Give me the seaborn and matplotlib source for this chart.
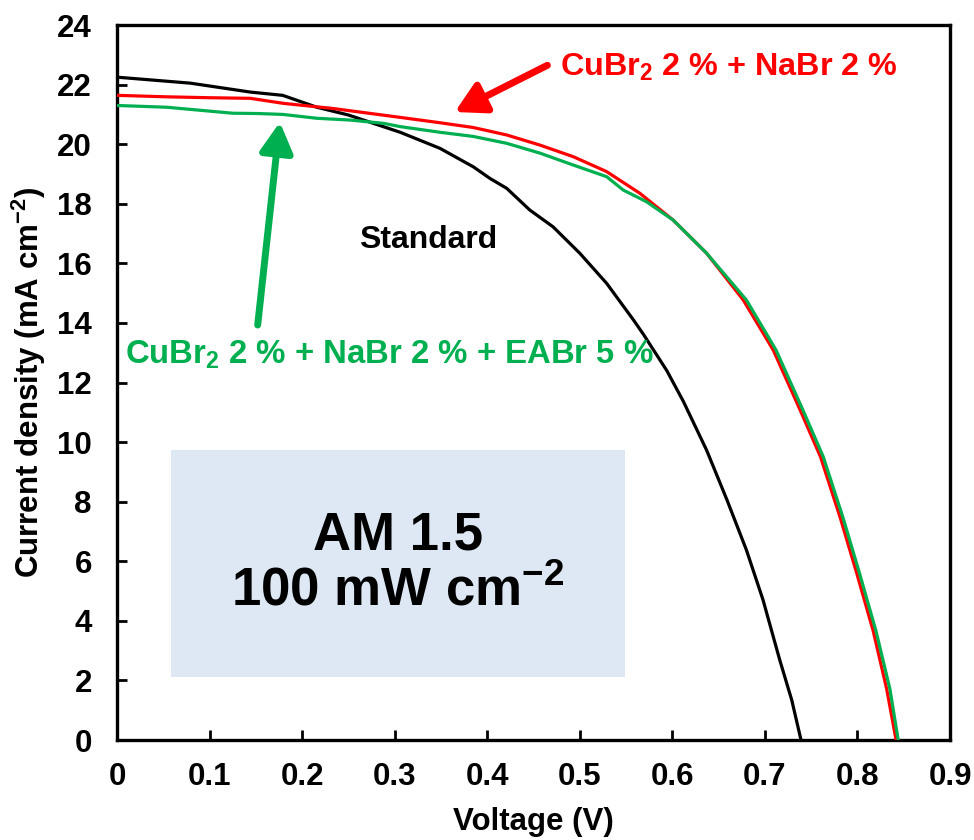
import numpy as np
import pandas as pd
import matplotlib
matplotlib.use("Agg")
import matplotlib.pyplot as plt
from matplotlib.patches import Rectangle
import seaborn as sns

# ---- data ----
std_v = [0.0, 0.079, 0.144, 0.179, 0.216, 0.25, 0.306, 0.349, 0.385, 0.403, 0.421, 0.446,
         0.471, 0.500, 0.529, 0.558, 0.5687, 0.594, 0.612, 0.637, 0.659, 0.680, 0.698,
         0.716, 0.729, 0.739]
std_j = [22.25, 22.05, 21.75, 21.64, 21.24, 20.98, 20.40, 19.86, 19.24, 18.85, 18.52, 17.79,
         17.23, 16.34, 15.33, 14.10, 13.62, 12.40, 11.36, 9.73, 8.06, 6.38, 4.70,
         2.69, 1.34, 0.0]

cu_v = [0.0, 0.054, 0.10, 0.144, 0.18, 0.233, 0.306, 0.349, 0.385, 0.421, 0.457, 0.493,
        0.529, 0.565, 0.601, 0.637, 0.6766, 0.709, 0.738, 0.760, 0.781, 0.799, 0.817,
        0.8315, 0.8417]
cu_j = [21.64, 21.59, 21.56, 21.54, 21.37, 21.20, 20.90, 20.72, 20.56, 20.31, 19.97, 19.58,
        19.08, 18.35, 17.45, 16.34, 14.77, 13.09, 11.08, 9.51, 7.50, 5.62, 3.66,
        1.72, 0.0]

ea_v = [0.0, 0.054, 0.125, 0.152, 0.179, 0.216, 0.252, 0.288, 0.306, 0.349, 0.385, 0.421,
        0.457, 0.493, 0.529, 0.547, 0.572, 0.601, 0.637, 0.680, 0.712, 0.741, 0.763,
        0.784, 0.802, 0.820, 0.835, 0.844]
ea_j = [21.30, 21.24, 21.04, 21.03, 21.00, 20.87, 20.81, 20.70, 20.59, 20.40, 20.26, 20.03,
        19.70, 19.30, 18.91, 18.46, 18.07, 17.45, 16.34, 14.77, 13.09, 11.08, 9.51,
        7.50, 5.62, 3.66, 1.72, 0.0]

series_names = ["Standard", "CuBr2 2 % + NaBr 2 %", "CuBr2 2 % + NaBr 2 % + EABr 5 %"]
series_colors = ["#000000", "#ff0000", "#00b050"]

x_ticks = [0, 0.1, 0.2, 0.3, 0.4, 0.5, 0.6, 0.7, 0.8, 0.9]
x_tick_labels = ["0", "0.1", "0.2", "0.3", "0.4", "0.5", "0.6", "0.7", "0.8", "0.9"]
y_ticks = list(range(0, 25, 2))

df = pd.concat([
    pd.DataFrame({"V": std_v, "J": std_j, "s": series_names[0]}),
    pd.DataFrame({"V": cu_v, "J": cu_j, "s": series_names[1]}),
    pd.DataFrame({"V": ea_v, "J": ea_j, "s": series_names[2]}),
], ignore_index=True)

# ---- style ----
sns.set_style("ticks")
plt.rcParams["font.family"] = ["Liberation Sans", "DejaVu Sans"]
plt.rcParams["font.weight"] = "bold"
plt.rcParams["mathtext.default"] = "regular"
plt.rcParams["axes.labelweight"] = "bold"
plt.rcParams["text.color"] = "black"
plt.rcParams["axes.labelcolor"] = "black"
plt.rcParams["xtick.color"] = "black"
plt.rcParams["ytick.color"] = "black"
plt.rcParams["xtick.labelcolor"] = "black"
plt.rcParams["ytick.labelcolor"] = "black"

fig = plt.figure(figsize=(9.74, 8.4), dpi=100)
ax = fig.add_axes([0.1201, 0.119, 0.8553, 0.8512])

# info box (behind curves)
ax.add_patch(Rectangle((0.0583, 2.11), 0.549 - 0.0583, 9.73 - 2.11,
                       facecolor="#dde8f4", edgecolor="none", zorder=0))
ax.text(0.3035, 5.92, "AM 1.5\n100 mW cm$^{-2}$", ha="center", va="center",
        fontsize=38, fontweight="bold", linespacing=1.15, zorder=1, color="black")

sns.lineplot(data=df, x="V", y="J", hue="s", palette=series_colors,
             hue_order=series_names, sort=False, estimator=None,
             linewidth=2.3, legend=False, ax=ax, zorder=3)

ax.set_xlim(0, 0.9)
ax.set_ylim(0, 24)
ax.set_xticks(x_ticks)
ax.set_xticklabels(x_tick_labels)
ax.set_yticks(y_ticks)

for sp in ax.spines.values():
    sp.set_visible(True)
    sp.set_linewidth(2.4)
    sp.set_color("black")

ax.tick_params(direction="in", length=7, width=2, labelsize=22.5, color="black",
               labelcolor="black")
ax.tick_params(axis="y", pad=18)
ax.tick_params(axis="x", pad=16)
for lab in ax.get_xticklabels() + ax.get_yticklabels():
    lab.set_fontweight("bold")

ax.set_xlabel("Voltage (V)", fontsize=22.5, fontweight="bold", va="center", color="black")
ax.xaxis.set_label_coords(0.5, -0.1147)
ax.set_ylabel("Current density (mA cm$^{-2}$)", fontsize=22.5, fontweight="bold",
              va="center", color="black")
ax.yaxis.set_label_coords(-0.1056, 0.5)

# annotations
ax.text(0.479, 22.59, "CuBr$_2$ 2 % + NaBr 2 %", color="#ff0000", fontsize=23.3,
        fontweight="bold", ha="left", va="center")
ax.annotate("", xy=(0.365, 21.08), xytext=(0.465, 22.65),
            arrowprops=dict(arrowstyle="-|>,head_length=0.9,head_width=0.5",
                            lw=5, color="#ff0000", shrinkA=0, shrinkB=0,
                            mutation_scale=20))

ax.text(0.0086, 12.92, "CuBr$_2$ 2 % + NaBr 2 % + EABr 5 %", color="#00b050",
        fontsize=23.7, fontweight="bold", ha="left", va="center")
ax.annotate("", xy=(0.176, 20.74), xytext=(0.152, 13.93),
            arrowprops=dict(arrowstyle="-|>,head_length=0.9,head_width=0.5",
                            lw=5, color="#00b050", shrinkA=0, shrinkB=0,
                            mutation_scale=20))

ax.text(0.336, 16.78, "Standard", color="black", fontsize=23, fontweight="bold",
        ha="center", va="center")

fig.savefig("out.png", dpi=100)
